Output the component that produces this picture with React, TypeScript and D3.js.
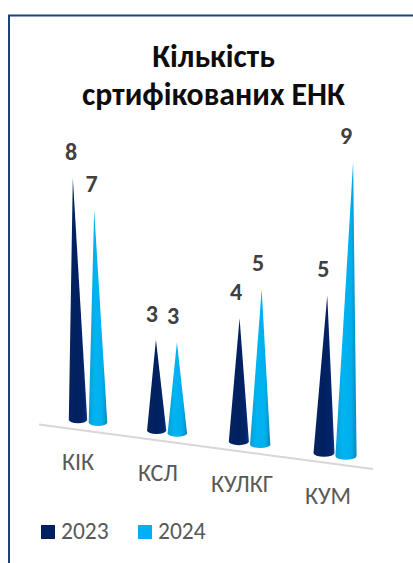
import React from "react";
import * as d3 from "d3";

const categories = ["КІК", "КСЛ", "КУЛКГ", "КУМ"];
const values2023 = [8, 3, 4, 5];
const values2024 = [7, 3, 5, 9];
const titleLines = ["Кількість", "сртифікованих ЕНК"];
const seriesNames = ["2023", "2024"];
const seriesColors = ["#002060", "#00B0F0"];
const categoryCenters = [88, 167, 249.5, 335];
const categoryLabelX = [78, 158, 242, 328];

const W = 413;
const H = 563;
const FONT = "Carlito, Calibri, Lato, 'Noto Sans', sans-serif";

// perspective floor and depth
const xCat = d3.scaleLinear().domain([0, 1, 2, 3]).range(categoryCenters);
const floorY = d3.scaleLinear().domain([39, 373]).range([416.6, 461.6]);
const unitPx = d3.scaleLinear().domain([78, 240, 324, 346]).range([30.5, 31.3, 31.9, 32.9]);
const halfWidth = d3.scaleLinear().domain([78, 346]).range([9.2, 10.6]);
const lean = d3.scaleLinear().domain([78, 346]).range([-0.0212, 0.024]);
const labelDx = d3.scaleLinear().domain([78, 346]).range([-6.8, 0]);
const pairOffset = d3.scaleLinear().domain([0, 3]).range([-10, -11]);
const labelY = d3.scaleLinear().domain([39, 373]).range([464.6, 510]);

function conePath(bx: number, by: number, r: number, tx: number, ty: number) {
  const ry = r * 0.36;
  return `M${tx},${ty}L${bx + r},${by - 2}A${r},${ry} 0 0 1 ${bx - r},${by - 2}Z`;
}

export default function App() {
  const cones = categories.flatMap((_, i) =>
    [values2023[i], values2024[i]].map((v, s) => {
      const off = pairOffset(i);
      const bx = xCat(i) + (s === 0 ? off : -off);
      const by = floorY(bx);
      const h = v * unitPx(bx);
      const tx = bx + lean(bx) * h;
      return { key: `${i}-${s}`, v, s, bx, by, h, tx, ty: by - h, r: halfWidth(bx) };
    })
  );

  return (
    <svg
      width={W}
      height={H}
      viewBox={`0 0 ${W} ${H}`}
      style={{ position: "absolute", left: 0, top: 0, display: "block", background: "#fff" }}
    >
      <defs>
        <linearGradient id="cone0" x1="0" x2="1" y1="0" y2="0">
          <stop offset="0" stopColor="#06235f" />
          <stop offset="0.45" stopColor="#002060" />
          <stop offset="0.85" stopColor="#04246a" />
          <stop offset="1" stopColor="#0d3a7c" />
        </linearGradient>
        <linearGradient id="cone1" x1="0" x2="1" y1="0" y2="0">
          <stop offset="0" stopColor="#0e9ed4" />
          <stop offset="0.35" stopColor="#00b4f2" />
          <stop offset="0.75" stopColor="#00aeee" />
          <stop offset="1" stopColor="#0f86b5" />
        </linearGradient>
      </defs>

      <path d={`M9,${H}V15.5H${W}`} fill="none" stroke="#1f3f80" strokeWidth={2} />

      <text textAnchor="middle" fontFamily={FONT} fontWeight={700} fontSize={31.7} fill="#0d0d0d">
        <tspan x={213.5} y={67}>{titleLines[0]}</tspan>
        <tspan x={213.5} y={105}>{titleLines[1]}</tspan>
      </text>

      <line x1={39} y1={floorY(39)+8} x2={373} y2={floorY(373)+7.5} stroke="#d9d5d8" strokeWidth={2} />

      {cones.map((c) => (
        <path
          key={c.key}
          d={conePath(c.bx, c.by, c.r, c.tx, c.ty)}
          fill={`url(#cone${c.s})`}
        />
      ))}

      {cones.map((c) => (
        <text
          key={c.key}
          x={c.bx + labelDx(c.bx)}
          y={c.ty - 18}
          textAnchor="middle"
          fontFamily={FONT}
          fontWeight={700}
          fontSize={24}
          fill="#404040"
        >
          {c.v}
        </text>
      ))}

      {categories.map((c, i) => (
        <text
          key={c}
          x={categoryLabelX[i]}
          y={labelY(categoryLabelX[i])}
          textAnchor="middle"
          fontFamily={FONT}
          fontSize={24}
          fill="#595959"
        >
          {c}
        </text>
      ))}

      {seriesNames.map((n, i) => (
        <g key={n} transform={`translate(${41 + i * 97},525)`}>
          <rect width={14} height={14} fill={seriesColors[i]} />
          <text x={20} y={14} fontFamily={FONT} fontSize={23.5} fill="#595959">
            {n}
          </text>
        </g>
      ))}
    </svg>
  );
}
